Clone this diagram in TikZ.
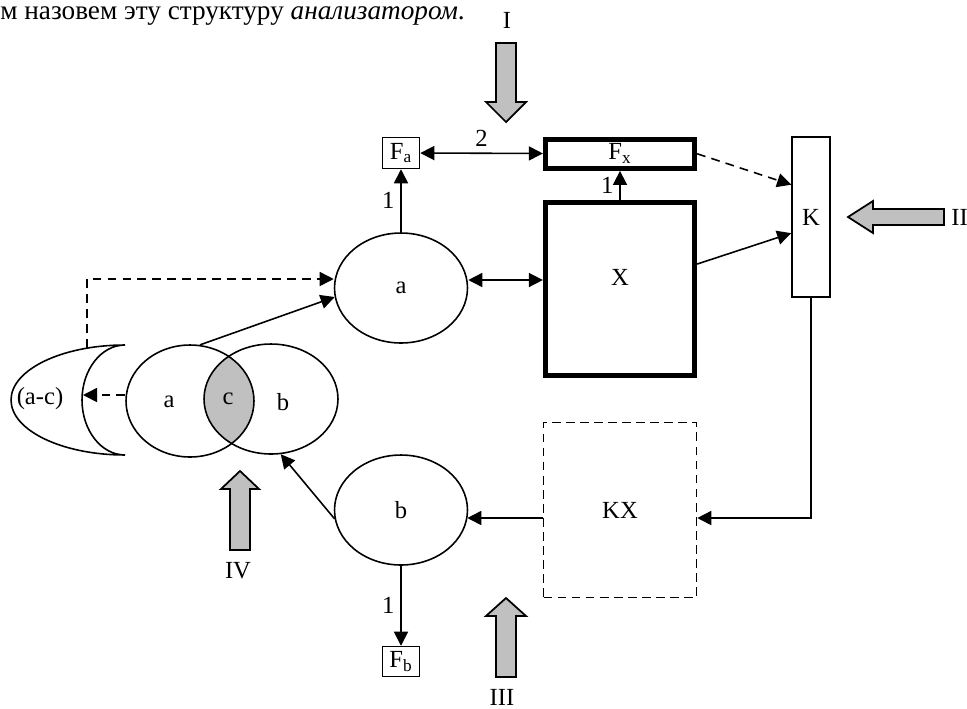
\documentclass[tikz,border=0pt]{standalone}
\usepackage{fontspec}
\setmainfont{Liberation Serif}
\usetikzlibrary{arrows.meta, positioning, shapes.geometric, calc}
\definecolor{CGrey}{HTML}{C0C0C0}

\begin{document}
\begin{tikzpicture}[
    x=0.02cm, y=-0.02cm,
    font=\fontsize{14}{16}\selectfont,
    blk/.style={rectangle, draw, line width=0.9pt, inner sep=1pt},
    thickblk/.style={rectangle, draw, line width=3pt, inner sep=1pt},
    oval/.style={ellipse, draw, line width=0.9pt, inner sep=0pt, minimum width=2.66cm, minimum height=2.2cm},
    arrow/.style={-{Triangle[length=8pt, width=8pt]}, line width=0.9pt},
    dblarrow/.style={{Triangle[length=8pt, width=8pt]}-{Triangle[length=8pt, width=8pt]}, line width=0.9pt},
    dasharrow/.style={arrow, dash pattern=on 5pt off 3.5pt},
    bigarrow/.style={draw, fill=CGrey, line width=1pt, line join=miter},
]
\useasboundingbox (0,0) rectangle (967,708);

% Text line
\node[anchor=base west, inner sep=0pt, font=\fontsize{15.5}{18}\selectfont] (intro) at (0,19) {м назовем эту структуру \textit{анализатором}.};

% Main blocks
\node[oval] (ea) at (401,288) {a};
\node[blk, minimum width=0.74cm, minimum height=0.62cm, above=1.26cm of ea] (Fa) {F\textsubscript{a}};
\node[thickblk, minimum width=2.98cm, minimum height=3.46cm, text depth=0.45cm] (X) at (620,289) {X};
\node[thickblk, minimum width=2.98cm, minimum height=0.58cm, above=0.58cm of X] (Fx) {F\textsubscript{x}};
\node[blk, minimum width=0.76cm, minimum height=3.2cm] (K) at (811,217) {K};
\node[blk, dash pattern=on 5pt off 3pt, minimum width=3.06cm, minimum height=3.5cm] (KX) at (620,510) {KX};
\node[oval] (eb) at (401,510) {b};
\node[blk, minimum width=0.74cm, minimum height=0.6cm, below=1.6cm of eb] (Fb) {F\textsubscript{b}};

% Venn
\begin{scope}
  \clip (190,401) ellipse [x radius=1.28cm, y radius=1.12cm];
  \fill[CGrey] (271,399) ellipse [x radius=1.34cm, y radius=1.1cm];
\end{scope}
\node[oval, minimum width=2.56cm, minimum height=2.24cm] (va) at (190,401) {};
\node[oval, minimum width=2.68cm, minimum height=2.2cm] (vb) at (271,399) {};
\node (la) at (169,402) {a};
\node (lc) at (228,399) {c};
\node (lb) at (283,402) {b};

% Crescent (a-c)
\draw[line width=0.9pt] (125,345) arc[start angle=90, end angle=270, x radius=2.28cm, y radius=1.1cm]
  arc[start angle=270, end angle=90, x radius=0.86cm, y radius=1.1cm] -- cycle;
\node (lac) at (40,399) {(a-c)};
\coordinate (crtop) at (87,348);
\coordinate (crin) at (83,395);

% Grey arrows
\draw[bigarrow] (496,43) -- (516,43) -- (516,102) -- (526,102) -- (506,122) -- (486,102) -- (496,102) -- cycle;
\node (nI) at (507,20) {I};
\draw[bigarrow] (944,209) -- (944,225) -- (873,225) -- (873,233) -- (848,217) -- (873,201) -- (873,209) -- cycle;
\node[anchor=west, inner sep=0pt] (nII) at (951,217) {II};
\draw[bigarrow] (496,677) -- (516,677) -- (516,616) -- (526,616) -- (506,598) -- (486,616) -- (496,616) -- cycle;
\node (nIII) at (502,697) {III};
\draw[bigarrow] (230,550) -- (250,550) -- (250,489) -- (259,489) -- (240,471) -- (221,489) -- (230,489) -- cycle;
\node (nIV) at (238,571) {IV};

% Arrows
\draw[arrow] (ea) -- node[left] (n1a) {1} (Fa);
\draw[dblarrow] (Fa) -- node[above] (n2) {2} (Fx);
\draw[arrow] (X) -- node[left] (n1x) {1} (Fx);
\draw[dasharrow] (Fx.east) -- ($(K.north west)!0.3!(K.south west)$);
\draw[arrow] ($(X.north east)!0.36!(X.south east)$) -- ($(K.north west)!0.6!(K.south west)$);
\draw[dblarrow] ($(ea.east)+(0,-8)$) -- ($(ea.east -| X.west)+(0,-8)$);
\draw[dasharrow] (crtop) |- ($(ea.west)+(0,-9)$);
\draw[arrow] (va.80) -- ($(ea.west)+(1,9)$);
\draw[dasharrow] (va.west |- crin) -- (crin);
\draw[arrow] ($(eb.west)+(1,9)$) -- (vb.-80);
\draw[arrow] ($(KX.west)+(0,8)$) -- ($(eb.east)+(-1,8)$);
\draw[arrow] (K.south) |- ($(KX.east)+(0,8)$);
\draw[arrow] (eb) -- node[left] (n1b) {1} (Fb);

\end{tikzpicture}
\end{document}
